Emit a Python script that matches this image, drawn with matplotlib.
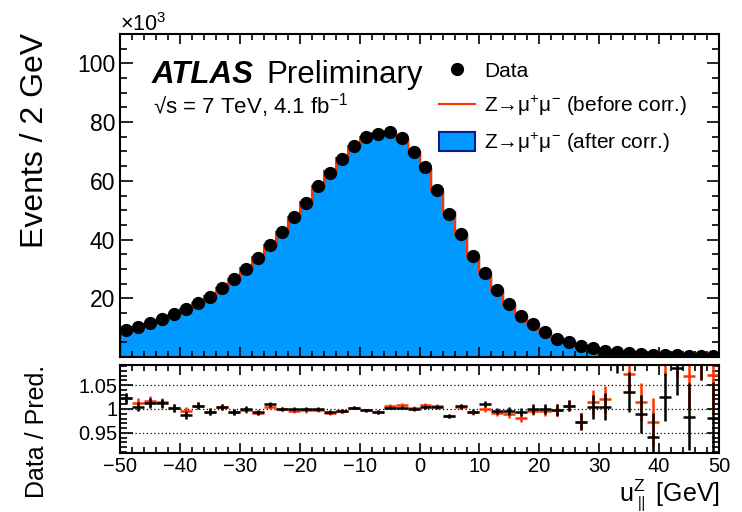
import matplotlib
matplotlib.use("Agg")
import matplotlib.pyplot as plt
import numpy as np
from matplotlib.lines import Line2D
from matplotlib.patches import Patch
from matplotlib.ticker import MultipleLocator

plt.rcParams['font.family'] = ['Liberation Sans', 'DejaVu Sans']
plt.rcParams['mathtext.fontset'] = 'custom'
plt.rcParams['mathtext.rm'] = 'Liberation Sans'
plt.rcParams['mathtext.it'] = 'Liberation Sans:italic'
plt.rcParams['mathtext.bf'] = 'Liberation Sans:bold'

# bin edges of u_par^Z [GeV], 2 GeV bins
edges = np.arange(-50, 52, 2)
centers = np.arange(-49, 50, 2)

# data events / 2 GeV (x10^3)
data = [9.2, 10.3, 11.5, 12.9, 14.5, 16.2, 18.4, 20.6, 23.5, 26.4,
        30.1, 33.7, 38.2, 42.7, 47.6, 52.6, 58.1, 62.8, 67.6, 72.0,
        74.8, 75.9, 76.6, 74.5, 69.8, 64.6, 56.9, 48.6, 42.0, 34.3,
        28.5, 22.7, 17.9, 14.0, 11.1, 8.4, 6.3, 5.0, 3.7, 2.9,
        2.1, 1.7, 1.35, 1.1, 0.85, 0.7, 0.55, 0.45, 0.4, 0.35]

# data / prediction, after correction (black)
ratio_after = [1.022, 1.005, 1.012, 1.012, 1.0015, 0.9875, 1.007, 0.9945, 1.005, 0.9945,
               1.000, 0.9935, 1.0097, 1.000, 1.000, 1.000, 1.000, 0.993, 0.996, 1.003,
               0.997, 0.993, 1.003, 1.003, 1.000, 1.005, 1.005, 0.9855, 1.006, 0.9945,
               1.0097, 0.996, 0.996, 0.993, 1.000, 1.000, 0.998, 1.007, 0.9736, 1.0035,
               1.005, 1.105, 1.036, 0.9896, 0.941, 1.0257, 1.085, 0.984, 1.13, 0.9806]

# data / prediction, before correction (red)
ratio_before = [1.023, 1.012, 1.017, 1.014, 1.002, 0.9965, 1.007, 0.9945, 1.004, 0.993,
                0.998, 0.992, 1.004, 1.000, 0.996, 0.997, 0.998, 0.992, 0.996, 1.003,
                0.997, 0.994, 1.006, 1.008, 1.003, 1.008, 1.006, 0.9855, 1.005, 0.993,
                1.000, 0.992, 0.989, 0.9806, 0.996, 0.996, 0.997, 1.007, 0.9736, 1.015,
                1.020, 1.12, 1.073, 1.014, 0.9736, 1.12, 1.12, 1.069, 1.13, 1.071]

# ratio uncertainties
ratio_err = [0.011, 0.010, 0.010, 0.009, 0.008, 0.008, 0.007, 0.007, 0.0065, 0.006,
             0.006, 0.005, 0.005, 0.005, 0.0045, 0.0045, 0.004, 0.004, 0.004, 0.004,
             0.004, 0.004, 0.004, 0.004, 0.004, 0.004, 0.004, 0.0045, 0.005, 0.0055,
             0.006, 0.0065, 0.0075, 0.0085, 0.0095, 0.011, 0.0125, 0.012, 0.017, 0.025,
             0.028, 0.03, 0.042, 0.04, 0.05, 0.05, 0.055, 0.07, 0.07, 0.075]

pred_after = np.array(data) / np.array(ratio_after)
pred_before = np.array(data) / np.array(ratio_before)

W, H = 742, 512
fig = plt.figure(figsize=(W / 100, H / 100), dpi=100)

def px(x0, y0, x1, y1):
    return [x0 / W, 1 - y1 / H, (x1 - x0) / W, (y1 - y0) / H]

ax = fig.add_axes(px(120, 34, 719, 357))
rx = fig.add_axes(px(120, 365, 719, 453))

blue = '#0099ff'
red = '#ff3300'
navy = '#0a1a8c'

ax.stairs(pred_after, edges, fill=True, color=blue, lw=0)
ax.stairs(pred_after, edges, color=navy, lw=1)
ax.stairs(pred_before, edges, color=red, lw=1.5)
ax.plot(centers, data, 'o', color='black', ms=8.5, zorder=5)

ax.set_xlim(-50, 50)
ax.set_ylim(0, 110)
ax.set_yticks([20, 40, 60, 80, 100])
ax.yaxis.set_minor_locator(MultipleLocator(5))
ax.xaxis.set_major_locator(MultipleLocator(10))
ax.xaxis.set_minor_locator(MultipleLocator(2))
ax.tick_params(axis='both', which='both', direction='in', top=True, right=True,
               labelbottom=False, labelsize=16.5, width=1.2)
ax.tick_params(axis='y', which='major', length=9)
ax.tick_params(axis='y', which='minor', length=5)
ax.tick_params(axis='x', which='major', length=7)
ax.tick_params(axis='x', which='minor', length=4)
for s in ax.spines.values():
    s.set_linewidth(1.5)

# ratio panel
for yv in [0.95, 1.0, 1.05]:
    rx.axhline(yv, color='black', ls=(0, (1, 2)), lw=0.9)
rx.errorbar(centers, ratio_before, xerr=1, yerr=ratio_err, fmt='none',
            ecolor=red, elinewidth=1.8, capsize=0)
rx.errorbar(centers, ratio_after, xerr=1, yerr=ratio_err, fmt='none',
            ecolor='black', elinewidth=1.8, capsize=0)
rx.set_xlim(-50, 50)
rx.set_ylim(0.908, 1.092)
rx.set_yticks([0.95, 1.0, 1.05])
rx.set_yticklabels(['0.95', '1', '1.05'])
rx.yaxis.set_minor_locator(MultipleLocator(0.01))
rx.xaxis.set_major_locator(MultipleLocator(10))
rx.xaxis.set_minor_locator(MultipleLocator(2))
rx.tick_params(axis='both', which='both', direction='in', top=True, right=True,
               labelsize=14.5, width=1.2)
rx.tick_params(axis='y', which='major', length=9, pad=2)
rx.tick_params(axis='y', which='minor', length=5)
rx.tick_params(axis='x', which='major', length=7, pad=3)
rx.tick_params(axis='x', which='minor', length=4)
for s in rx.spines.values():
    s.set_linewidth(1.5)

# labels
fig.text(35 / W, 1 - 33 / H, 'Events / 2 GeV', rotation=90, ha='center', va='top', fontsize=23)
fig.text(37 / W, 1 - 365 / H, 'Data / Pred.', rotation=90, ha='center', va='top', fontsize=18)
fig.text(720 / W, 1 - 501 / H, r'u$_{\parallel}^{\mathrm{Z}}$ [GeV]', ha='right', va='baseline', fontsize=18)
fig.text(120 / W, 1 - 31 / H, '\u00d710$^{3}$', ha='left', va='baseline', fontsize=15.5)

fig.text(152 / W, 1 - 83 / H, 'ATLAS', fontsize=22.5, fontweight='bold', style='italic', va='baseline')
fig.text(266 / W, 1 - 83 / H, 'Preliminary', fontsize=22.5, va='baseline')
fig.text(153 / W, 1 - 113 / H, '\u221as = 7 TeV, 4.1 fb$^{-1}$', fontsize=16, va='baseline')

handles = [Line2D([], [], ls='none', marker='o', color='black', ms=8.5),
           Line2D([], [], color=red, lw=1.5),
           Patch(facecolor=blue, edgecolor=navy, lw=1.5)]
labels = ['Data',
          'Z\u2192\u03bc$^{+}$\u03bc$^{-}$ (before corr.)',
          'Z\u2192\u03bc$^{+}$\u03bc$^{-}$ (after corr.)']
fig.legend(handles, labels, loc='upper left', bbox_to_anchor=(439 / W, 1 - 61 / H),
           frameon=False, fontsize=15, handlelength=1.75, handleheight=1.0,
           handletextpad=0.4, labelspacing=0.6, borderaxespad=0, borderpad=0)

fig.savefig('out.png', dpi=100)
